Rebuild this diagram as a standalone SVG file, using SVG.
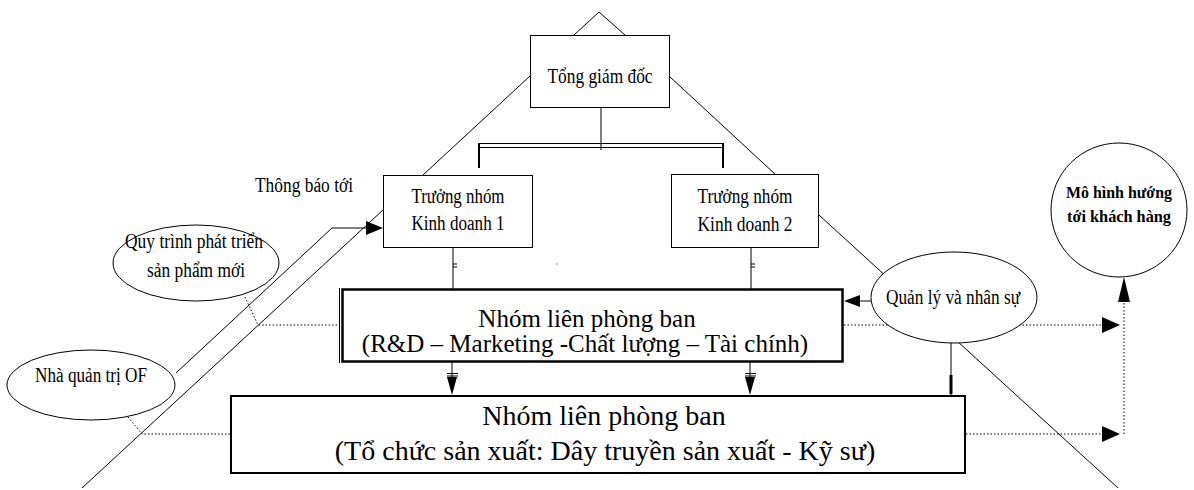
<svg xmlns="http://www.w3.org/2000/svg" width="1194" height="490" viewBox="0 0 1194 490">
  <style>
    .bg { fill: #ffffff; }
    .box { fill: #ffffff; stroke: #000000; stroke-width: 1; }
    .ell { fill: #ffffff; stroke: #000000; stroke-width: 1; }
    .ln { fill: none; stroke: #000000; stroke-width: 1; }
    .dot { fill: none; stroke: #000000; stroke-width: 1; stroke-dasharray: 1.5 2; }
    .head { fill: #000000; stroke: none; }
    .t { font-family: "Liberation Serif", "Times New Roman", serif; fill: #000000; text-anchor: middle; }
    .s { font-size: 20px; }
  </style>
  <rect class="bg" x="0" y="0" width="1194" height="490"/>

  <g id="connectors">
    <!-- apex above the director box -->
    <polyline class="ln" points="574,35 599,12 625,35"/>
    <!-- director to team leads (diagonals) -->
    <line class="ln" x1="530" y1="76" x2="423" y2="175"/>
    <line class="ln" x1="669" y1="76" x2="776" y2="175"/>
    <!-- director stem and double bar -->
    <line class="ln" x1="601" y1="107" x2="601" y2="150"/>
    <line class="ln" x1="479" y1="143.5" x2="723" y2="143.5"/>
    <line class="ln" x1="479" y1="147.5" x2="723" y2="147.5"/>
    <line class="ln" x1="479" y1="143" x2="479" y2="168" style="stroke-width:2"/>
    <line class="ln" x1="723" y1="143" x2="723" y2="168" style="stroke-width:2"/>
    <!-- long side lines -->
    <line class="ln" x1="383" y1="210" x2="82" y2="488"/>
    <line class="ln" x1="819" y1="215" x2="1118" y2="488"/>
    <!-- OF manager to team lead 1 -->
    <polyline class="ln" points="176,373 332,228 368,228"/>
    <polygon class="head" points="383,228 366,221 366,235"/>
    <!-- team leads to R&D group -->
    <line class="ln" x1="453" y1="247" x2="453" y2="289"/>
    <line class="ln" x1="453" y1="264" x2="457" y2="264"/>
    <line class="ln" x1="453" y1="267" x2="457" y2="267"/>
    <line class="ln" x1="751" y1="247" x2="751" y2="289"/>
    <line class="ln" x1="751" y1="264" x2="755" y2="264"/>
    <line class="ln" x1="751" y1="267" x2="755" y2="267"/>
    <line class="ln" x1="557" y1="263" x2="557" y2="265" style="stroke:#999"/>
    <!-- R&D group to production group -->
    <line class="ln" x1="452" y1="362" x2="452" y2="378"/>
    <line class="ln" x1="447" y1="373.5" x2="458" y2="373.5"/>
    <line class="ln" x1="447" y1="376" x2="458" y2="376"/>
    <polygon class="head" points="452,395 447,377 457,377"/>
    <line class="ln" x1="750" y1="362" x2="750" y2="378"/>
    <line class="ln" x1="745" y1="373.5" x2="756" y2="373.5"/>
    <line class="ln" x1="745" y1="376" x2="756" y2="376"/>
    <polygon class="head" points="750,395 745,377 755,377"/>
    <!-- management ellipse to production group -->
    <line class="ln" x1="951" y1="343" x2="951" y2="395"/>
    <line class="ln" x1="951" y1="375" x2="951" y2="394" style="stroke-width:3"/>
    <!-- management ellipse to R&D group -->
    <line class="ln" x1="871" y1="301" x2="858" y2="301"/>
    <polygon class="head" points="844,301 860,295 860,307"/>
    <!-- dotted links on the left -->
    <polyline class="dot" points="245,297 258,325 340,325"/>
    <polyline class="dot" points="128,417 142,434 231,434"/>
    <!-- dotted links to the customer model -->
    <line class="dot" x1="844" y1="325" x2="1104" y2="325"/>
    <polygon class="head" points="1120,325 1102,317 1102,333"/>
    <line class="dot" x1="966" y1="434" x2="1104" y2="434"/>
    <polygon class="head" points="1120,434 1102,426 1102,442"/>
    <line class="dot" x1="1124" y1="434" x2="1124" y2="300"/>
    <polygon class="head" points="1124,277 1118,302 1130,302"/>
  </g>

  <g id="director">
    <rect class="box" x="530.5" y="35.5" width="139" height="72"/>
    <text class="t" x="600" y="83" font-size="21" textLength="105" lengthAdjust="spacingAndGlyphs">Tổng giám đốc</text>
  </g>

  <g id="lead1">
    <rect class="box" x="383.5" y="175.5" width="149" height="72"/>
    <text class="t s" x="458" y="203" textLength="93" lengthAdjust="spacingAndGlyphs">Trưởng nhóm</text>
    <text class="t s" x="458" y="230" textLength="93" lengthAdjust="spacingAndGlyphs">Kinh doanh 1</text>
  </g>

  <g id="lead2">
    <rect class="box" x="671.5" y="174.5" width="147" height="73"/>
    <text class="t s" x="745" y="203" textLength="95" lengthAdjust="spacingAndGlyphs">Trưởng nhóm</text>
    <text class="t s" x="745" y="231" textLength="95" lengthAdjust="spacingAndGlyphs">Kinh doanh 2</text>
  </g>

  <g id="notice-label">
    <text class="t s" x="304" y="192" textLength="98" lengthAdjust="spacingAndGlyphs">Thông báo tới</text>
  </g>

  <g id="npd-process">
    <ellipse class="ell" cx="196" cy="263" rx="83" ry="38"/>
    <text class="t s" x="194" y="248" textLength="138" lengthAdjust="spacingAndGlyphs">Quy trình phát triển</text>
    <text class="t s" x="196" y="277" textLength="98" lengthAdjust="spacingAndGlyphs">sản phẩm mới</text>
  </g>

  <g id="of-manager">
    <ellipse class="ell" cx="91" cy="385" rx="84" ry="35"/>
    <text class="t s" x="91" y="382" textLength="112" lengthAdjust="spacingAndGlyphs">Nhà quản trị OF</text>
  </g>

  <g id="management">
    <ellipse class="ell" cx="954" cy="297.5" rx="83" ry="45.5"/>
    <text class="t s" x="953" y="304" textLength="134" lengthAdjust="spacingAndGlyphs">Quản lý và nhân sự</text>
  </g>

  <g id="customer-model">
    <ellipse class="ell" cx="1119" cy="210" rx="68" ry="67"/>
    <text class="t" x="1119" y="198" font-size="16" font-weight="bold" textLength="106" lengthAdjust="spacingAndGlyphs">Mô hình hướng</text>
    <text class="t" x="1119" y="222" font-size="16" font-weight="bold" textLength="104" lengthAdjust="spacingAndGlyphs">tới khách hàng</text>
  </g>

  <g id="rd-group">
    <line class="ln" x1="339.5" y1="288" x2="339.5" y2="363"/>
    <rect class="box" x="342.5" y="289.5" width="500" height="72" style="stroke-width:2.5"/>
    <text class="t" x="587" y="327" font-size="25">Nhóm liên phòng ban</text>
    <text class="t" x="585" y="352" font-size="25">(R&amp;D – Marketing -Chất lượng – Tài chính)</text>
  </g>

  <g id="production-group">
    <rect class="box" x="231" y="396" width="734" height="77" style="stroke-width:2"/>
    <text class="t" x="604" y="425" font-size="28">Nhóm liên phòng ban</text>
    <text class="t" x="605" y="460" font-size="28">(Tổ chức sản xuất: Dây truyền sản xuất - Kỹ sư)</text>
  </g>
</svg>
